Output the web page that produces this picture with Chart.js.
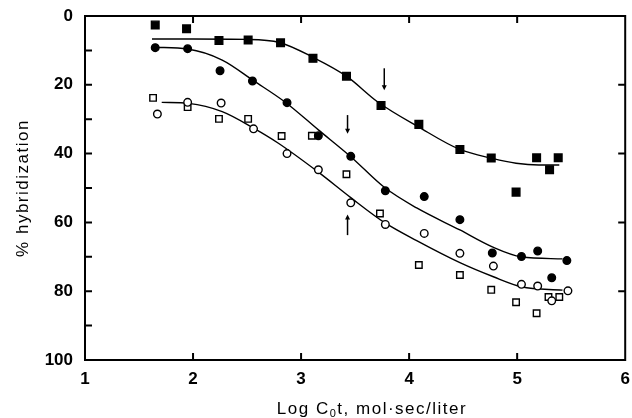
<!DOCTYPE html>
<html>
<head>
<meta charset="utf-8">
<script src="https://cdn.jsdelivr.net/npm/chart.js@4/dist/chart.umd.min.js"></script>
<style>
  html, body { margin: 0; padding: 0; background: #fff; }
  #chart { display: block; }
</style>
</head>
<body>
<canvas id="chart" width="632" height="418"></canvas>
<script>
// measured points (log C0t, % hybridization)
const filledSqX = [1.65, 1.94, 2.24, 2.51, 2.81, 3.11, 3.42, 3.74, 4.09, 4.47, 4.76, 4.99, 5.18, 5.30, 5.38];
const filledSqY = [2.6, 3.7, 7.1, 7.0, 7.8, 12.3, 17.5, 26.0, 31.5, 38.8, 41.3, 51.2, 41.2, 44.7, 41.2];

const filledCircX = [1.65, 1.95, 2.25, 2.55, 2.87, 3.16, 3.46, 3.78, 4.14, 4.47, 4.77, 5.04, 5.19, 5.32, 5.46];
const filledCircY = [9.2, 9.5, 15.9, 18.9, 25.2, 34.8, 40.8, 50.8, 52.5, 59.2, 68.9, 69.9, 68.3, 76.1, 71.1];

const openCircX = [1.67, 1.95, 2.26, 2.56, 2.87, 3.16, 3.46, 3.78, 4.14, 4.47, 4.78, 5.04, 5.19, 5.32, 5.47];
const openCircY = [28.5, 25.1, 25.3, 32.8, 40.0, 44.7, 54.3, 60.6, 63.2, 69.0, 72.7, 78.0, 78.5, 82.8, 79.9];

const openSqX = [1.63, 1.95, 2.24, 2.51, 2.82, 3.10, 3.42, 3.73, 4.09, 4.47, 4.76, 4.99, 5.18, 5.29, 5.39];
const openSqY = [23.8, 26.5, 29.9, 29.9, 34.9, 34.8, 46.0, 57.4, 72.4, 75.3, 79.6, 83.2, 86.4, 81.7, 81.7];

// fitted curves
const curveAX = [1.62, 2.0, 2.5, 2.8, 3.11, 3.42, 3.71, 4.09, 4.47, 4.77, 4.99, 5.2, 5.39];
const curveAY = [6.7, 6.7, 6.8, 7.7, 12.0, 17.5, 25.0, 32.3, 38.8, 41.4, 42.8, 43.3, 43.3];

const curveBX = [1.64, 1.95, 2.27, 2.56, 2.86, 3.16, 3.46, 3.77, 4.07, 4.47, 4.77, 5.04, 5.42];
const curveBY = [9.1, 9.6, 12.8, 18.8, 25.2, 33.1, 40.9, 49.8, 55.8, 62.2, 67.1, 70.0, 70.6];

const curveCX = [1.71, 1.96, 2.27, 2.56, 2.79, 3.16, 3.46, 3.77, 4.07, 4.47, 4.78, 5.04, 5.42];
const curveCY = [25.1, 25.4, 27.8, 32.6, 37.0, 45.4, 52.8, 60.0, 65.3, 71.7, 75.8, 78.7, 79.7];

// arrows: x, tail y, tip y
const arrowX = [3.77, 3.43, 3.43];
const arrowFrom = [15.2, 28.8, 63.7];
const arrowTo = [21.6, 34.2, 57.7];

const xTicks = [1, 2, 3, 4, 5, 6];
const yTicks = [0, 20, 40, 60, 80, 100];

const xTitle = ['Log C', '0', 't, mol\u00b7sec/liter'];
const yTitle = '% hybridization';

function pts(xs, ys) {
	return xs.map((x, i) => ({ x: x, y: ys[i] }));
}

const frame = {
	id: 'frame',
	afterDatasetsDraw(chart) {
		const c = chart.ctx;
		const xs = chart.scales.x, ys = chart.scales.y;
		c.save();
		c.strokeStyle = '#000';
		c.fillStyle = '#000';
		c.lineWidth = 1.5;
		for (let i = 0; i < arrowX.length; i++) {
			const px = xs.getPixelForValue(arrowX[i]);
			const y0 = ys.getPixelForValue(arrowFrom[i]);
			const y1 = ys.getPixelForValue(arrowTo[i]);
			const d = y1 > y0 ? 1 : -1;
			c.beginPath();
			c.moveTo(px, y0);
			c.lineTo(px, y1 - d * 3);
			c.stroke();
			c.beginPath();
			c.moveTo(px, y1);
			c.lineTo(px - 2.5, y1 - d * 5);
			c.lineTo(px + 2.5, y1 - d * 5);
			c.closePath();
			c.fill();
		}
		c.restore();
	},
	afterDraw(chart) {
		const c = chart.ctx;
		const a = chart.chartArea;
		const xs = chart.scales.x, ys = chart.scales.y;
		c.save();
		c.strokeStyle = '#000';
		c.lineWidth = 2;
		c.strokeRect(a.left, a.top, a.right - a.left, a.bottom - a.top);
		c.beginPath();
		for (let v = 10; v < 100; v += 10) {
			const py = ys.getPixelForValue(v);
			c.moveTo(a.left, py);
			c.lineTo(a.left + 7, py);
			if (v % 20 === 0) {
				c.moveTo(a.right, py);
				c.lineTo(a.right - 7, py);
			}
		}
		for (let v = 2; v <= 5; v++) {
			const px = xs.getPixelForValue(v);
			c.moveTo(px, a.bottom);
			c.lineTo(px, a.bottom - 7);
			c.moveTo(px, a.top);
			c.lineTo(px, a.top + 7);
		}
		c.stroke();

		// axis titles, loosely tracked like the original typesetting
		c.fillStyle = '#000';
		c.textBaseline = 'alphabetic';
		c.letterSpacing = '1.5px';
		const big = '17px "Liberation Sans", Arial, sans-serif';
		const small = '11px "Liberation Sans", Arial, sans-serif';
		c.font = big;
		const w0 = c.measureText(xTitle[0]).width;
		const w2 = c.measureText(xTitle[2]).width;
		c.font = small;
		const w1 = c.measureText(xTitle[1]).width;
		let tx = 372 - (w0 + w1 + w2) / 2;
		const ty = 414;
		c.font = big;
		c.fillText(xTitle[0], tx, ty);
		c.font = small;
		c.fillText(xTitle[1], tx + w0, ty + 3);
		c.font = big;
		c.fillText(xTitle[2], tx + w0 + w1, ty);

		c.translate(28, (a.top + a.bottom) / 2);
		c.rotate(-Math.PI / 2);
		c.textAlign = 'center';
		c.fillText(yTitle, 0, 0);
		c.restore();
	}
};

const markerBase = { showLine: false, borderColor: '#000', borderWidth: 1.4 };
const curveBase = {
	showLine: true,
	pointRadius: 0,
	borderColor: '#000',
	borderWidth: 1.4,
	cubicInterpolationMode: 'monotone',
	fill: false
};

new Chart(document.getElementById('chart'), {
	type: 'scatter',
	data: {
		datasets: [
			{ ...markerBase, label: 'filled squares', data: pts(filledSqX, filledSqY), pointStyle: 'rect', pointRadius: 5.4, backgroundColor: '#000' },
			{ ...markerBase, label: 'filled circles', data: pts(filledCircX, filledCircY), pointStyle: 'circle', pointRadius: 3.8, backgroundColor: '#000' },
			{ ...markerBase, label: 'open circles', data: pts(openCircX, openCircY), pointStyle: 'circle', pointRadius: 3.8, backgroundColor: '#fff' },
			{ ...markerBase, label: 'open squares', data: pts(openSqX, openSqY), pointStyle: 'rect', pointRadius: 4.6, backgroundColor: '#fff' },
			{ ...curveBase, label: 'curve A', data: pts(curveAX, curveAY) },
			{ ...curveBase, label: 'curve B', data: pts(curveBX, curveBY) },
			{ ...curveBase, label: 'curve C', data: pts(curveCX, curveCY) }
		]
	},
	options: {
		responsive: false,
		animation: false,
		devicePixelRatio: 1,
		layout: { padding: { top: 16, right: 2, left: 0, bottom: 0 } },
		plugins: {
			legend: { display: false },
			tooltip: { enabled: false }
		},
		scales: {
			x: {
				type: 'linear',
				min: 1,
				max: 6,
				afterBuildTicks: s => { s.ticks = xTicks.map(v => ({ value: v })); },
				afterFit: s => { s.height = 58; s.paddingLeft = 0; s.paddingRight = 0; },
				grid: { display: false, drawTicks: false },
				border: { display: false },
				ticks: {
					padding: 9,
					color: '#000',
					maxRotation: 0,
					font: { family: '"Liberation Sans", Arial, sans-serif', size: 17, weight: 'bold' }
				}
			},
			y: {
				type: 'linear',
				min: 0,
				max: 100,
				reverse: true,
				afterBuildTicks: s => { s.ticks = yTicks.map(v => ({ value: v })); },
				afterFit: s => { s.width = 85; s.paddingTop = 0; s.paddingBottom = 0; },
				grid: { display: false, drawTicks: false },
				border: { display: false },
				ticks: {
					padding: 12,
					color: '#000',
					font: { family: '"Liberation Sans", Arial, sans-serif', size: 17, weight: 'bold' }
				}
			}
		}
	},
	plugins: [frame]
});
</script>
</body>
</html>
